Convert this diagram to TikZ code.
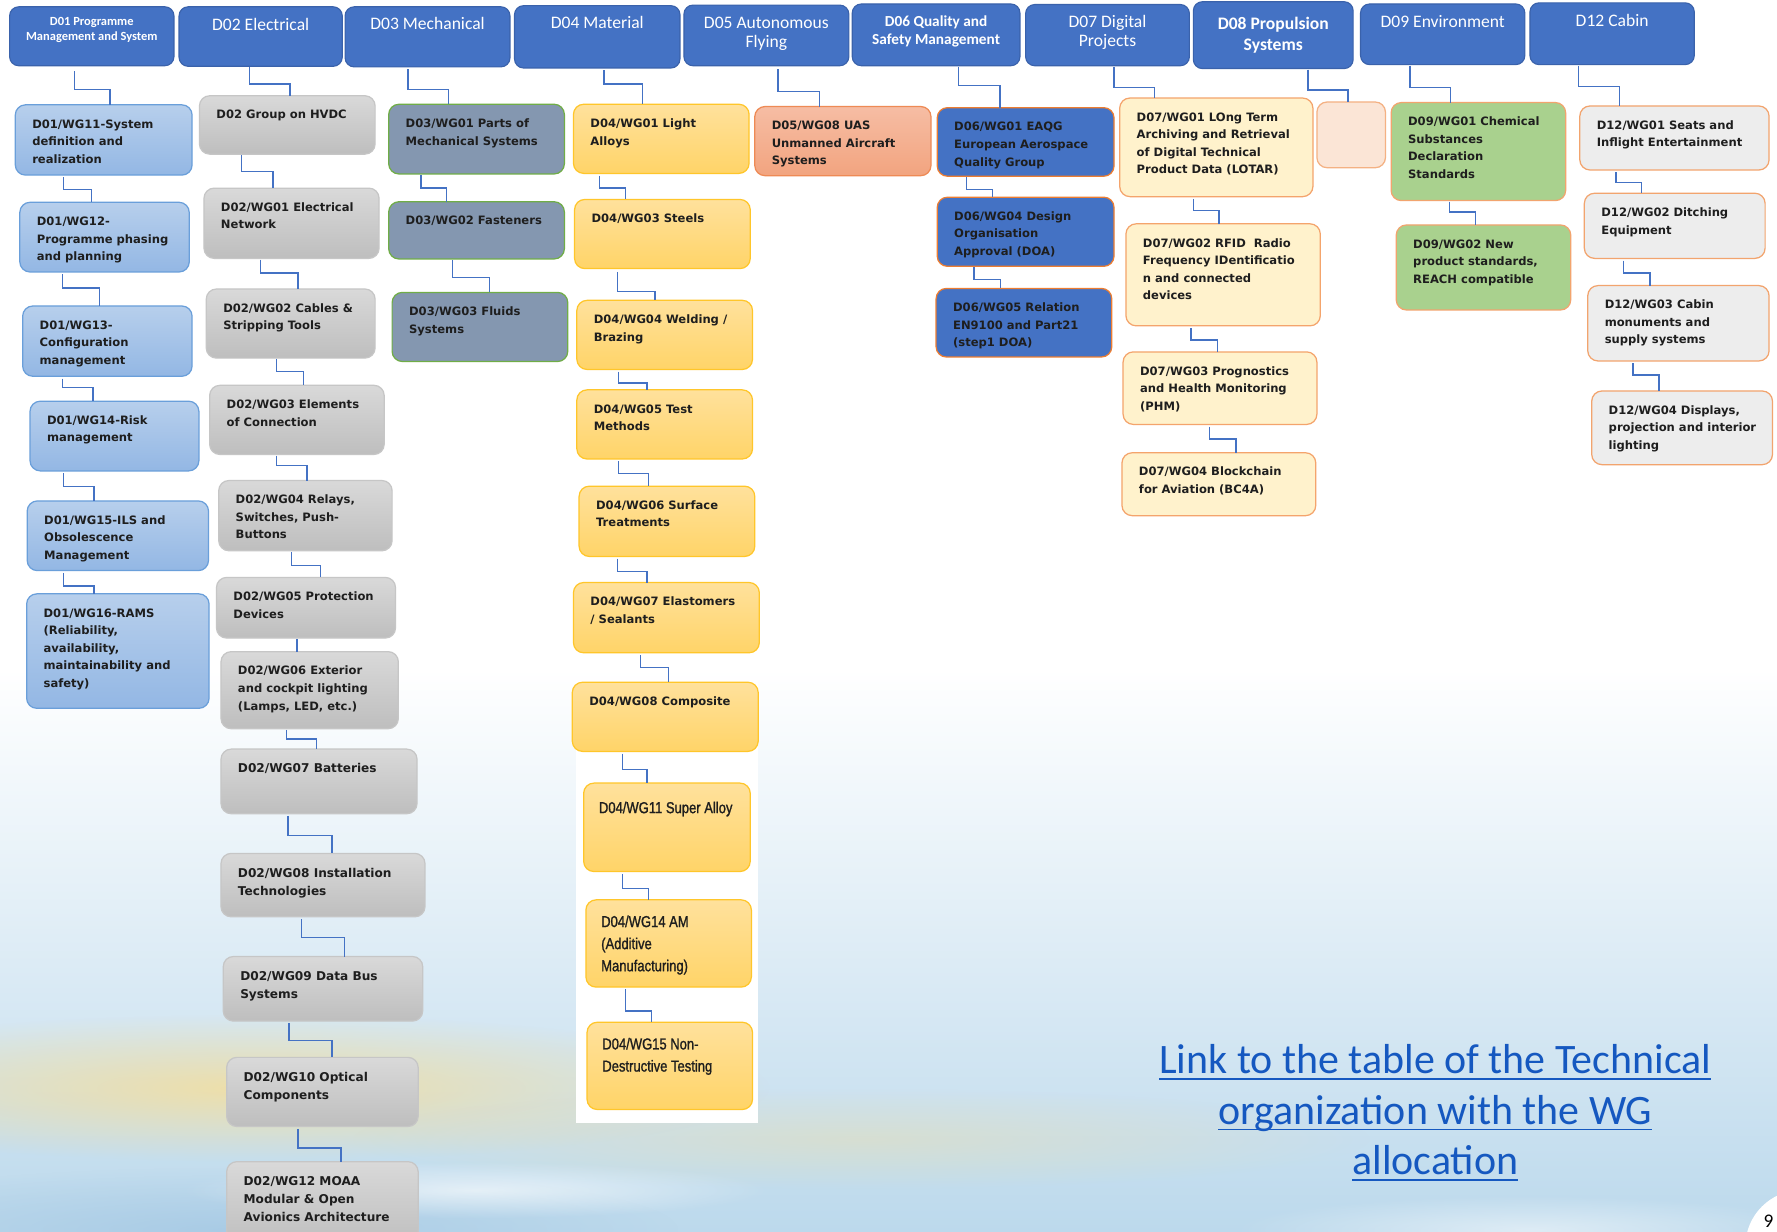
\documentclass[tikz,border=0pt]{standalone}
\usepackage{fontspec}
\setmainfont{Carlito}
\newfontfamily\boxfont{DejaVu Sans}
\newfontfamily\narrowfont{Liberation Sans}[FakeStretch=0.82,FakeBold=1.2]
\usetikzlibrary{calc,fadings}
\tikzfading[name=glow, inner color=transparent!0, outer color=transparent!100]

\definecolor{hdrblue}{HTML}{4472C4}
\definecolor{hdrline}{HTML}{3A62AB}
\definecolor{connc}{HTML}{4472C4}
\definecolor{txt}{HTML}{1E1E1E}
\definecolor{d01top}{HTML}{B7CFEC}
\definecolor{d01bot}{HTML}{93B7E4}
\definecolor{d01line}{HTML}{6A9FDA}
\definecolor{d02top}{HTML}{D9D9D9}
\definecolor{d02bot}{HTML}{BEBEBE}
\definecolor{d02line}{HTML}{C6C6C6}
\definecolor{d03fill}{HTML}{8497B0}
\definecolor{d03line}{HTML}{70AD47}
\definecolor{d04top}{HTML}{FFE19C}
\definecolor{d04bot}{HTML}{FFD468}
\definecolor{d04line}{HTML}{FFC62A}
\definecolor{d05top}{HTML}{F6BDA4}
\definecolor{d05bot}{HTML}{F2A47F}
\definecolor{d05line}{HTML}{EE8A55}
\definecolor{d06fill}{HTML}{4472C4}
\definecolor{d06line}{HTML}{ED7D31}
\definecolor{d07fill}{HTML}{FFF2CC}
\definecolor{d07line}{HTML}{F4A46C}
\definecolor{d08fill}{HTML}{FBE5D6}
\definecolor{d08line}{HTML}{F4B183}
\definecolor{d09fill}{HTML}{A9D18E}
\definecolor{d09line}{HTML}{F2A46E}
\definecolor{d12fill}{HTML}{EDEDED}
\definecolor{d12line}{HTML}{F2A46E}
\definecolor{skyA}{HTML}{E2EDF4}
\definecolor{skyB}{HTML}{BCD9EC}
\definecolor{sunA}{HTML}{F4DE9C}
\definecolor{cloudB}{HTML}{A3C7E3}
\definecolor{linkblue}{HTML}{1558C0}

\tikzset{
  hdr/.style={rounded corners=8pt, draw=hdrline, fill=hdrblue, line width=1pt, inner sep=0pt, outer sep=0pt, text=white},
  wg/.style={rounded corners=9pt, line width=1.1pt, inner sep=0pt, outer sep=0pt, text=txt},
  d01/.style={wg, draw=d01line, top color=d01top, bottom color=d01bot},
  d02/.style={wg, draw=d02line, top color=d02top, bottom color=d02bot},
  d03/.style={wg, draw=d03line, fill=d03fill},
  d04/.style={wg, draw=d04line, top color=d04top, bottom color=d04bot},
  d05/.style={wg, draw=d05line, top color=d05top, bottom color=d05bot},
  d06/.style={wg, draw=d06line, fill=d06fill},
  d07/.style={wg, draw=d07line, fill=d07fill},
  d08/.style={wg, draw=d08line, fill=d08fill},
  d09/.style={wg, draw=d09line, fill=d09fill},
  d12/.style={wg, draw=d12line, fill=d12fill},
  conn/.style={draw=connc, line width=1.2pt},
  linkt/.style={inner sep=0pt, text=linkblue, font=\fontsize{37}{44}\selectfont}
}

% text setups
\def\stdwg{\boxfont\bfseries\fontsize{10.2}{15.5}\selectfont\leftskip=15pt\rightskip=0pt plus 1fil\parfillskip=0pt plus 1fil\rule{0pt}{20.5pt}}
\def\bigwg{\boxfont\bfseries\fontsize{10.7}{16}\selectfont\leftskip=15pt\rightskip=0pt plus 1fil\parfillskip=0pt plus 1fil\rule{0pt}{21pt}}
\def\narrowwg#1{\narrowfont\fontsize{14}{19.5}\selectfont\leftskip=13.5pt\rightskip=0pt plus 1fil\parfillskip=0pt plus 1fil\rule{0pt}{#1pt}}
\def\hdf#1#2#3#4{#1\fontsize{#2}{#3}\selectfont\centering\rule{0pt}{#4pt}}

% header box: [setup]{name}{x1}{y1}{x2}{y2}{text}
\newcommand\hdbox[7][]{\node[hdr, anchor=north west] (#2) at (#3,-#4)
  {\parbox[t][\dimexpr #6pt-#4pt\relax][t]{\dimexpr #5pt-#3pt\relax}{#1#7}};}
% WG box: [setup]{name}{style}{x1}{y1}{x2}{y2}{text}
\newcommand\wgbox[8][\stdwg]{\node[#3, anchor=north west] (#2) at (#4,-#5)
  {\parbox[t][\dimexpr #7pt-#5pt\relax][t]{\dimexpr #6pt-#4pt\relax}{#1#8}};}
% connector: {src}{tgt}{x1}{gap}{ymid}{x2}
\newcommand\cn[6]{\draw[conn] let \p1=(#1.south), \p2=(#2.north) in (#3,\y1-#4) |- (#6,-#5) -- (#6,\y2);}
\newcommand\ulink[1]{\setbox0=\hbox{#1}\rlap{\rule[-5.5pt]{\wd0}{1.7pt}}\box0}

\begin{document}
\begin{tikzpicture}[x=1pt,y=1pt]
\useasboundingbox (0,0) rectangle (1568,-1087);
% background sky
\fill[white] (0,0) rectangle (1568,-1087);
\shade[top color=white, middle color=skyA, bottom color=skyB] (0,-590) rectangle (1568,-1087);
\fill[sunA, path fading=glow, opacity=0.85] (220,-960) ellipse (460 and 65);
\fill[sunA, path fading=glow, opacity=0.35] (760,-1005) ellipse (450 and 45);
\fill[cloudB, path fading=glow, opacity=0.75] (200,-1085) ellipse (400 and 55);
\fill[white, path fading=glow, opacity=0.6] (420,-1050) ellipse (260 and 25);
\fill[white, path fading=glow, opacity=0.5] (1350,-1085) ellipse (260 and 30);
\fill[white] (508,-600) rectangle (669,-991);

% headers
\hdbox[\hdf{\bfseries}{11}{13}{16.5}]{d01h}{8.5}{6}{153.5}{58}{D01 Programme\\Management and System}
\hdbox[\hdf{}{15.5}{17}{21}]{d02h}{158}{6}{302}{58.5}{D02 Electrical}
\hdbox[\hdf{}{15.5}{17}{20}]{d03h}{304.5}{6}{450}{59}{D03 Mechanical}
\hdbox[\hdf{}{15.5}{17}{20}]{d04h}{454}{5}{600}{60}{D04 Material}
\hdbox[\hdf{}{15.5}{17}{20.5}]{d05h}{603.5}{4.5}{749}{58}{D05 Autonomous\\Flying}
\hdbox[\hdf{\bfseries}{13.5}{16}{20}]{d06h}{752}{3.5}{900}{58}{D06 Quality and\\Safety Management}
\hdbox[\hdf{}{15.5}{17}{20}]{d07h}{905}{4}{1049.5}{58}{D07 Digital\\Projects}
\hdbox[\hdf{\bfseries}{15.5}{19}{24.5}]{d08h}{1053}{1.5}{1194}{60.5}{D08 Propulsion\\Systems}
\hdbox[\hdf{}{15.5}{17}{20.5}]{d09h}{1200.5}{3.5}{1345.5}{57}{D09 Environment}
\hdbox[\hdf{}{15.5}{17}{20.5}]{d12h}{1350}{2.5}{1495}{57}{D12 Cabin}

% D01
\wgbox{d01w11}{d01}{13.5}{92.5}{169.5}{154.5}{D01/WG11-System\\definition and\\realization}
\wgbox{d01w12}{d01}{17.5}{178.5}{167}{240}{D01/WG12-\\Programme phasing\\and planning}
\wgbox{d01w13}{d01}{20}{270}{169.5}{332}{D01/WG13-\\Configuration\\management}
\wgbox{d01w14}{d01}{26.5}{354}{175.5}{415.5}{D01/WG14-Risk\\management}
\wgbox{d01w15}{d01}{24}{442}{184}{503.5}{D01/WG15-ILS and\\Obsolescence\\Management}
\wgbox{d01w16}{d01}{23.5}{524}{184.5}{625}{D01/WG16-RAMS\\(Reliability,\\availability,\\maintainability and\\safety)}

% D02
\wgbox{d02w00}{d02}{176}{84.5}{331}{136}{D02 Group on HVDC}
\wgbox{d02w01}{d02}{180}{166}{334.5}{228}{D02/WG01 Electrical\\Network}
\wgbox{d02w02}{d02}{182}{255}{331}{316}{D02/WG02 Cables \&\\Stripping Tools}
\wgbox{d02w03}{d02}{185}{340}{339}{401}{D02/WG03 Elements\\of Connection}
\wgbox{d02w04}{d02}{193}{424}{346}{486}{D02/WG04 Relays,\\Switches, Push-\\Buttons}
\wgbox{d02w05}{d02}{191}{509.5}{349}{563}{D02/WG05 Protection\\Devices}
\wgbox{d02w06}{d02}{195}{575}{351.5}{643}{D02/WG06 Exterior\\and cockpit lighting\\(Lamps, LED, etc.)}
\wgbox[\bigwg]{d02w07}{d02}{195}{661}{368}{718}{D02/WG07 Batteries}
\wgbox[\bigwg]{d02w08}{d02}{195}{753}{375}{809}{D02/WG08 Installation\\Technologies}
\wgbox[\bigwg]{d02w09}{d02}{197}{844}{373}{901}{D02/WG09 Data Bus\\Systems}
\wgbox[\bigwg]{d02w10}{d02}{200}{933}{369}{994}{D02/WG10 Optical\\Components}
\wgbox[\bigwg]{d02w12}{d02}{200}{1025}{369}{1100}{D02/WG12 MOAA\\Modular \& Open\\Avionics Architecture}

% D03
\wgbox{d03w01}{d03}{343}{92}{498}{153.5}{D03/WG01 Parts of\\Mechanical Systems}
\wgbox{d03w02}{d03}{343}{178}{498}{228.5}{D03/WG02 Fasteners}
\wgbox{d03w03}{d03}{346}{258}{501}{319}{D03/WG03 Fluids\\Systems}

% D04
\wgbox{d04w01}{d04}{506}{92}{661}{153}{D04/WG01 Light\\Alloys}
\wgbox{d04w03}{d04}{507}{176}{662}{237}{D04/WG03 Steels}
\wgbox{d04w04}{d04}{509}{265}{664}{326}{D04/WG04 Welding /\\Brazing}
\wgbox{d04w05}{d04}{509}{344}{664}{405}{D04/WG05 Test\\Methods}
\wgbox{d04w06}{d04}{511}{429}{666}{491}{D04/WG06 Surface\\Treatments}
\wgbox{d04w07}{d04}{506}{514}{670}{576}{D04/WG07 Elastomers\\/ Sealants}
\wgbox{d04w08}{d04}{505}{602}{669}{663}{D04/WG08 Composite}
\wgbox[\narrowwg{26.5}]{d04w11}{d04}{515}{691}{662}{769}{D04/WG11 Super Alloy}
\wgbox[\narrowwg{24}]{d04w14}{d04}{517}{794}{663}{871}{D04/WG14 AM\\(Additive\\Manufacturing)}
\wgbox[\narrowwg{24}]{d04w15}{d04}{518}{902}{664}{979}{D04/WG15 Non-\\Destructive Testing}

% D05
\wgbox{d05w08}{d05}{666}{94}{821.5}{155}{D05/WG08 UAS\\Unmanned Aircraft\\Systems}

% D06
\wgbox{d06w01}{d06}{827}{95}{983}{155.5}{D06/WG01 EAQG\\European Aerospace\\Quality Group}
\wgbox{d06w04}{d06}{827}{174}{983}{235}{D06/WG04 Design\\Organisation\\Approval (DOA)}
\wgbox{d06w05}{d06}{826}{254.5}{981}{315}{D06/WG05 Relation\\EN9100 and Part21\\(step1 DOA)}

% D07
\wgbox{d07w01}{d07}{988}{86.5}{1158.5}{173.5}{D07/WG01 LOng Term\\Archiving and Retrieval\\of Digital Technical\\Product Data (LOTAR)}
\wgbox{d07w02}{d07}{993.5}{197.5}{1165}{287.5}{D07/WG02 RFID\ \ Radio\\Frequency IDentificatio\\n and connected\\devices}
\wgbox{d07w03}{d07}{991}{310.5}{1162}{374.5}{D07/WG03 Prognostics\\and Health Monitoring\\(PHM)}
\wgbox{d07w04}{d07}{990}{399.5}{1161}{455}{D07/WG04 Blockchain\\for Aviation (BC4A)}

% D08
\node[d08, anchor=north west, minimum width=60.5pt, minimum height=58pt] (d08w) at (1162,-90) {};

% D09
\wgbox{d09w01}{d09}{1227.5}{90.5}{1381.5}{177}{D09/WG01 Chemical\\Substances\\Declaration\\Standards}
\wgbox{d09w02}{d09}{1232}{198.5}{1386}{273.5}{D09/WG02 New\\product standards,\\REACH compatible}

% D12
\wgbox{d12w01}{d12}{1394}{93.5}{1561}{150}{D12/WG01 Seats and\\Inflight Entertainment}
\wgbox{d12w02}{d12}{1398}{170.5}{1557.5}{228}{D12/WG02 Ditching\\Equipment}
\wgbox{d12w03}{d12}{1401}{252}{1561}{318.5}{D12/WG03 Cabin\\monuments and\\supply systems}
\wgbox{d12w04}{d12}{1404.5}{345}{1564}{410}{D12/WG04 Displays,\\projection and interior\\lighting}

% connectors
\cn{d01h}{d01w11}{66}{5}{79}{97}
\cn{d01w11}{d01w12}{56}{2}{167}{81}
\cn{d01w12}{d01w13}{55}{2}{254}{88}
\cn{d01w13}{d01w14}{55}{2}{342}{82}
\cn{d01w14}{d01w15}{56}{2}{429}{83}
\cn{d01w15}{d01w16}{56}{2}{517}{83}

\cn{d02h}{d02w00}{220}{1}{74}{256}
\cn{d02w00}{d02w01}{213}{1}{151.5}{241}
\cn{d02w01}{d02w02}{230}{1}{241}{263}
\cn{d02w02}{d02w03}{244}{1}{328}{268}
\cn{d02w03}{d02w04}{244}{1}{411}{271}
\cn{d02w04}{d02w05}{257}{1}{499}{283}
\cn{d02w05}{d02w06}{262}{1}{569}{262}
\cn{d02w06}{d02w07}{253}{1}{652}{279}
\cn{d02w07}{d02w08}{254}{2}{737}{293}
\cn{d02w08}{d02w09}{266}{2}{827}{304}
\cn{d02w09}{d02w10}{255}{2}{918}{293}
\cn{d02w10}{d02w12}{263}{2}{1013}{301}

\cn{d03h}{d03w01}{360}{2}{79}{396}
\cn{d03w01}{d03w02}{371.5}{1}{166}{394}
\cn{d03w02}{d03w03}{399}{1}{245}{432}

\cn{d04h}{d04w01}{533}{2}{74}{567}
\cn{d04w01}{d04w03}{529}{2}{166}{552}
\cn{d04w03}{d04w04}{545}{3}{257}{578}
\cn{d04w04}{d04w05}{546}{2}{338}{571}
\cn{d04w05}{d04w06}{546}{2}{418}{572}
\cn{d04w06}{d04w07}{545}{2}{504.5}{571}
\cn{d04w07}{d04w08}{565}{2}{589}{590}
\cn{d04w08}{d04w11}{549}{2}{679}{571}
\cn{d04w11}{d04w14}{549}{2}{784}{572}
\cn{d04w14}{d04w15}{552}{2}{892}{575}

\cn{d05h}{d05w08}{686.5}{3}{81}{723}

\cn{d06h}{d06w01}{846}{1}{75.5}{882.5}
\cn{d06w01}{d06w04}{853}{1}{167}{876}
\cn{d06w04}{d06w05}{859.5}{1}{246.5}{883}

\cn{d07h}{d07w01}{983}{1}{77}{1018.5}
\cn{d07w01}{d07w02}{1053}{2}{186}{1075.5}
\cn{d07w02}{d07w03}{1051}{2}{300}{1074.5}
\cn{d07w03}{d07w04}{1067}{2}{387.5}{1090.5}

\cn{d08h}{d08w}{1154}{1}{79.5}{1189.5}

\cn{d09h}{d09w01}{1244}{1}{77}{1280}
\cn{d09w01}{d09w02}{1279}{1}{187}{1302}

\cn{d12h}{d12w01}{1393}{1}{76.5}{1429}
\cn{d12w01}{d12w02}{1426}{2}{161}{1448.5}
\cn{d12w02}{d12w03}{1432.5}{2}{241}{1456}
\cn{d12w03}{d12w04}{1441}{2}{331}{1464}

% link text
\node[linkt, anchor=base] (lk1) at (1266.5,-947.5) {\ulink{Link to the table of the Technical}};
\node[linkt, anchor=base] (lk2) at (1266.5,-992) {\ulink{organization with the WG}};
\node[linkt, anchor=base] (lk3) at (1266.5,-1036.5) {\ulink{allocation}};

% page number
\fill[white] (1590,-1100) circle (50);
\node[anchor=base east, inner sep=0pt, font=\fontsize{17}{20}\selectfont] (pg) at (1565,-1083) {9};
\end{tikzpicture}
\end{document}
